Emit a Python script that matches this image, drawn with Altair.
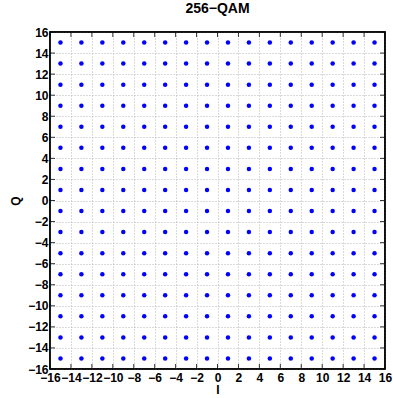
import altair as alt
import pandas as pd

# 256-QAM constellation: 16 in-phase x 16 quadrature levels
levels = [-15, -13, -11, -9, -7, -5, -3, -1, 1, 3, 5, 7, 9, 11, 13, 15]
tick_values = list(range(-16, 17, 2))

points = pd.DataFrame([(i, q) for i in levels for q in levels], columns=["I", "Q"])
ticks = pd.DataFrame({"t": tick_values})

W, H = 335, 337
FONT = "Liberation Sans"
dom = [-16, 16]

xs = alt.Scale(domain=dom, nice=False, zero=False)
ys = alt.Scale(domain=dom, nice=False, zero=False)

axis_common = dict(
    values=tick_values,
    format="d",
    grid=True,
    gridColor="#b4b4b4",
    gridDash=[1, 2],
    gridWidth=1,
    ticks=False,
    domain=False,
    labelOverlap=False,
    labelFlush=False,
    labelFont=FONT,
    labelFontWeight="bold",
    labelFontSize=12,
    labelColor="black",
    titleFont=FONT,
    titleFontWeight="bold",
    titleFontSize=12,
    titleColor="black",
)
x_axis = alt.Axis(title="I", labelPadding=3, titlePadding=1, **axis_common)
y_axis = alt.Axis(title="Q", labelPadding=2, titlePadding=5, **axis_common)

pts = alt.Chart(points).mark_circle(size=20, color="#0000ff", opacity=1).encode(
    x=alt.X("I:Q", scale=xs, axis=x_axis),
    y=alt.Y("Q:Q", scale=ys, axis=y_axis),
)

# inward-pointing tick marks on all four sides of the frame
tick_len = 5
tick_style = dict(color="#333333", strokeWidth=1)

bottom_ticks = alt.Chart(ticks).mark_rule(**tick_style).encode(
    x=alt.X("t:Q", scale=xs, axis=x_axis), y=alt.value(H), y2=alt.value(H - tick_len)
)
top_ticks = alt.Chart(ticks).mark_rule(**tick_style).encode(
    x=alt.X("t:Q", scale=xs, axis=x_axis), y=alt.value(0), y2=alt.value(tick_len)
)
left_ticks = alt.Chart(ticks).mark_rule(**tick_style).encode(
    y=alt.Y("t:Q", scale=ys, axis=y_axis), x=alt.value(0), x2=alt.value(tick_len)
)
right_ticks = alt.Chart(ticks).mark_rule(**tick_style).encode(
    y=alt.Y("t:Q", scale=ys, axis=y_axis), x=alt.value(W), x2=alt.value(W - tick_len)
)

# black box around the plot area
frame = alt.Chart(ticks.head(1)).mark_rect(
    fill=None, fillOpacity=0, stroke="black", strokeWidth=1.5
).encode(x=alt.value(0), x2=alt.value(W), y=alt.value(0), y2=alt.value(H))

chart = (
    alt.layer(pts, bottom_ticks, top_ticks, left_ticks, right_ticks, frame)
    .properties(
        width=W,
        height=H,
        title=alt.TitleParams(
            "256−QAM", font=FONT, fontWeight="bold", fontSize=14, color="black", offset=10
        ),
        autosize=alt.AutoSizeParams(type="none"),
        padding={"left": 50, "top": 32, "right": 8, "bottom": 29},
        background="white",
    )
    .configure_view(stroke="black", strokeWidth=1.5)
)

chart.save("out.html", embed_options={"renderer": "svg", "actions": False})
